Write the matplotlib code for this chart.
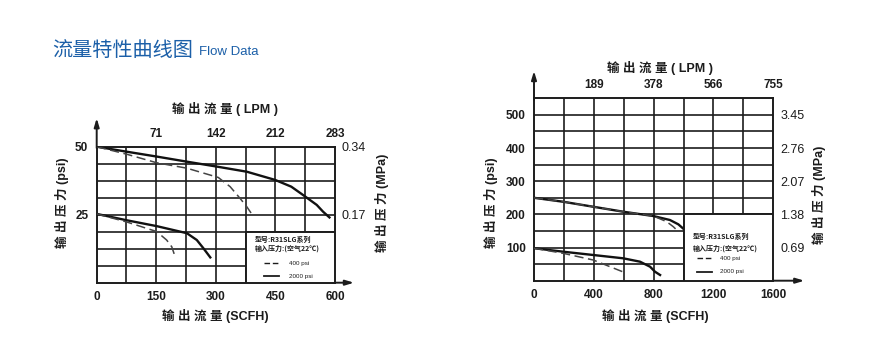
import matplotlib
matplotlib.use("Agg")
import matplotlib.pyplot as plt
from matplotlib.patches import Rectangle

plt.rcParams["font.family"] = ["Liberation Sans", "Noto Sans CJK SC", "DejaVu Sans"]

INK = "#1c1c1c"
BLUE = "#1b5fa8"

# ---------------- left chart: low-pressure model ----------------
l_x_ticks = [0, 150, 300, 450, 600]
l_lpm_labels = ["71", "142", "212", "283"]
l_psi_ticks = [25, 50]
l_mpa_labels = ["0.17", "0.34"]

l_hi_2000_x = [0, 74, 150, 227, 306, 378, 449, 490, 520, 554, 570, 586]
l_hi_2000_y = [50, 48.2, 46.4, 44.5, 42.6, 40.8, 37.8, 35.3, 32.2, 28.6, 26.1, 24.0]
l_hi_400_x = [0, 74, 151, 227, 306, 336, 361, 378, 394]
l_hi_400_y = [50, 47.3, 44.1, 42.1, 38.7, 35.3, 31.0, 27.9, 24.5]
l_lo_2000_x = [0, 74, 151, 227, 252, 269, 286]
l_lo_2000_y = [25.3, 23.0, 20.8, 18.2, 15.7, 12.6, 9.3]
l_lo_400_x = [0, 74, 151, 176, 189, 195]
l_lo_400_y = [25.3, 22.4, 18.8, 15.7, 13.2, 10.6]

# ---------------- right chart: high-pressure model ----------------
r_x_ticks = [0, 400, 800, 1200, 1600]
r_lpm_labels = ["189", "378", "566", "755"]
r_psi_ticks = [100, 200, 300, 400, 500]
r_mpa_labels = ["0.69", "1.38", "2.07", "2.76", "3.45"]

r_hi_2000_x = [0, 196, 396, 597, 798, 909, 965, 1003]
r_hi_2000_y = [250, 238, 223, 208, 195, 183, 170, 155]
r_hi_400_x = [0, 196, 396, 597, 798, 887, 931, 954]
r_hi_400_y = [250, 238, 223, 208, 195, 178, 163, 153]
r_lo_2000_x = [0, 196, 396, 597, 709, 776, 809, 843]
r_lo_2000_y = [98, 87.4, 77.5, 67.5, 57.3, 42.2, 27.1, 17.2]
r_lo_400_x = [0, 196, 396, 609]
r_lo_400_y = [98, 82.5, 62.4, 24.1]

legend_model = "型号:R31SLG系列"
legend_inlet = "输入压力:(空气22℃)"
legend_items = ["400 psi", "2000 psi"]

fig = plt.figure(figsize=(8.85, 3.5), dpi=100)
fig.patch.set_facecolor("white")

fig.text(52 / 885, 1 - 50 / 350, "流量特性曲线图", fontsize=14.5, color=BLUE,
         va="center", ha="left", family=["Noto Sans CJK SC", "DejaVu Sans"])
fig.text(199 / 885, 1 - 52 / 350, "Flow Data", fontsize=9.5, color=BLUE,
         va="center", ha="left", family=["Liberation Sans", "DejaVu Sans"])

tick_font = dict(fontsize=8.5, fontweight="bold", color=INK)
lab_font = dict(fontsize=9, fontweight="bold", color=INK)


def build(rect, xlim, ylim, xgrid, ygrid, xticks, lpm, yticks, mpa,
          curves, box, arrow_top, arrow_right, leg):
    ax = fig.add_axes(rect)
    ax.set_xlim(*xlim)
    ax.set_ylim(*ylim)
    for s in ax.spines.values():
        s.set_linewidth(1.4)
        s.set_color(INK)
    # grid
    v = xgrid
    while v < xlim[1] - 1e-6:
        ax.axvline(v, color=INK, lw=1.2, zorder=1)
        v += xgrid
    v = ygrid
    while v < ylim[1] - 1e-6:
        ax.axhline(v, color=INK, lw=1.2, zorder=1)
        v += ygrid

    ax.set_xticks(xticks)
    ax.set_xticklabels([str(t) for t in xticks], **tick_font)
    ax.set_yticks(yticks)
    ax.set_yticklabels([str(t) for t in yticks], **tick_font)
    ax.tick_params(length=0, pad=6)

    top = ax.twiny()
    top.set_xlim(*xlim)
    top.set_xticks(xticks[1:])
    top.set_xticklabels(lpm, **tick_font)
    top.tick_params(length=0, pad=5)

    right = ax.twinx()
    right.set_ylim(*ylim)
    right.set_yticks(yticks)
    right.set_yticklabels(mpa, fontsize=9, color=INK)
    right.tick_params(length=0, pad=5)
    for a in (top, right):
        for s in a.spines.values():
            s.set_visible(False)

    # axis arrows
    ax.annotate("", xy=(0, arrow_top), xytext=(0, 0.99), xycoords="axes fraction",
                arrowprops=dict(arrowstyle="-|>,head_length=0.5,head_width=0.15",
                                lw=1.4, color=INK, shrinkA=0, shrinkB=0))
    ax.annotate("", xy=(arrow_right, 0), xytext=(0.99, 0), xycoords="axes fraction",
                arrowprops=dict(arrowstyle="-|>,head_length=0.5,head_width=0.15",
                                lw=1.4, color=INK, shrinkA=0, shrinkB=0))

    for xs, ys, ls in curves:
        if ls == "--":
            ax.plot(xs, ys, color="#444444", lw=1.1, ls=(0, (6, 3)), zorder=3)
        else:
            ax.plot(xs, ys, color="#111111", lw=1.7, zorder=3)

    # legend panel
    x0, y0, w, h = box
    ax.add_patch(Rectangle((x0, y0), w, h, facecolor="white", edgecolor=INK,
                           lw=1.4, zorder=4))
    tx, ty1, ty2, lx0, lx1, lxt, ly1, ly2 = leg
    fam = ["Noto Sans CJK SC", "DejaVu Sans"]
    ax.text(tx, ty1, legend_model, transform=ax.transAxes, fontsize=5,
            fontweight="bold", color=INK, va="center", zorder=5, family=fam)
    ax.text(tx, ty2, legend_inlet, transform=ax.transAxes, fontsize=5,
            fontweight="bold", color=INK, va="center", zorder=5, family=fam)
    ax.plot([lx0, lx1], [ly1, ly1], transform=ax.transAxes, color=INK,
            lw=1.0, ls=(0, (4, 2)), zorder=5)
    ax.plot([lx0, lx1], [ly2, ly2], transform=ax.transAxes, color=INK,
            lw=1.3, zorder=5)
    ax.text(lxt, ly1, legend_items[0], transform=ax.transAxes, fontsize=4.5,
            color=INK, va="center", zorder=5)
    ax.text(lxt, ly2, legend_items[1], transform=ax.transAxes, fontsize=4.5,
            color=INK, va="center", zorder=5)
    return ax, top, right


# left chart
axL, topL, rightL = build(
    [96.7 / 885, 1 - 282.7 / 350, 238.3 / 885, 136 / 350],
    (0, 600), (0, 50), 75, 6.25, l_x_ticks, l_lpm_labels, l_psi_ticks, l_mpa_labels,
    [(l_hi_2000_x, l_hi_2000_y, "-"), (l_hi_400_x, l_hi_400_y, "--"),
     (l_lo_2000_x, l_lo_2000_y, "-"), (l_lo_400_x, l_lo_400_y, "--")],
    (375, 0, 225, 18.75), 1.21, 1.08,
    (0.664, 0.321, 0.253, 0.70, 0.763, 0.808, 0.143, 0.049))

# right chart
axR, topR, rightR = build(
    [534 / 885, 1 - 280.7 / 350, 239.3 / 885, 182.4 / 350],
    (0, 1600), (0, 550), 200, 50, r_x_ticks, r_lpm_labels, r_psi_ticks, r_mpa_labels,
    [(r_hi_2000_x, r_hi_2000_y, "-"), (r_hi_400_x, r_hi_400_y, "--"),
     (r_lo_2000_x, r_lo_2000_y, "-"), (r_lo_400_x, r_lo_400_y, "--")],
    (1000, 0, 600, 200), 1.15, 1.13,
    (0.663, 0.241, 0.178, 0.68, 0.742, 0.777, 0.123, 0.049))

cjk = ["Liberation Sans", "Noto Sans CJK SC"]
# axis titles
fig.text(225 / 885, 1 - 109 / 350, "输 出 流 量 ( LPM )", ha="center", va="center",
         family=cjk, **lab_font)
fig.text(215 / 885, 1 - 316 / 350, "输 出 流 量 (SCFH)", ha="center", va="center",
         family=cjk, **lab_font)
fig.text(62 / 885, 1 - 203 / 350, "输 出 压 力 (psi)", ha="center", va="center",
         rotation=90, family=cjk, **lab_font)
fig.text(382 / 885, 1 - 203 / 350, "输 出 压 力 (MPa)", ha="center", va="center",
         rotation=90, family=cjk, **lab_font)

fig.text(660 / 885, 1 - 68 / 350, "输 出 流 量 ( LPM )", ha="center", va="center",
         family=cjk, **lab_font)
fig.text(655 / 885, 1 - 316 / 350, "输 出 流 量 (SCFH)", ha="center", va="center",
         family=cjk, **lab_font)
fig.text(491 / 885, 1 - 203 / 350, "输 出 压 力 (psi)", ha="center", va="center",
         rotation=90, family=cjk, **lab_font)
fig.text(819 / 885, 1 - 195 / 350, "输 出 压 力 (MPa)", ha="center", va="center",
         rotation=90, family=cjk, **lab_font)

fig.savefig("out.png", dpi=100, facecolor="white")
